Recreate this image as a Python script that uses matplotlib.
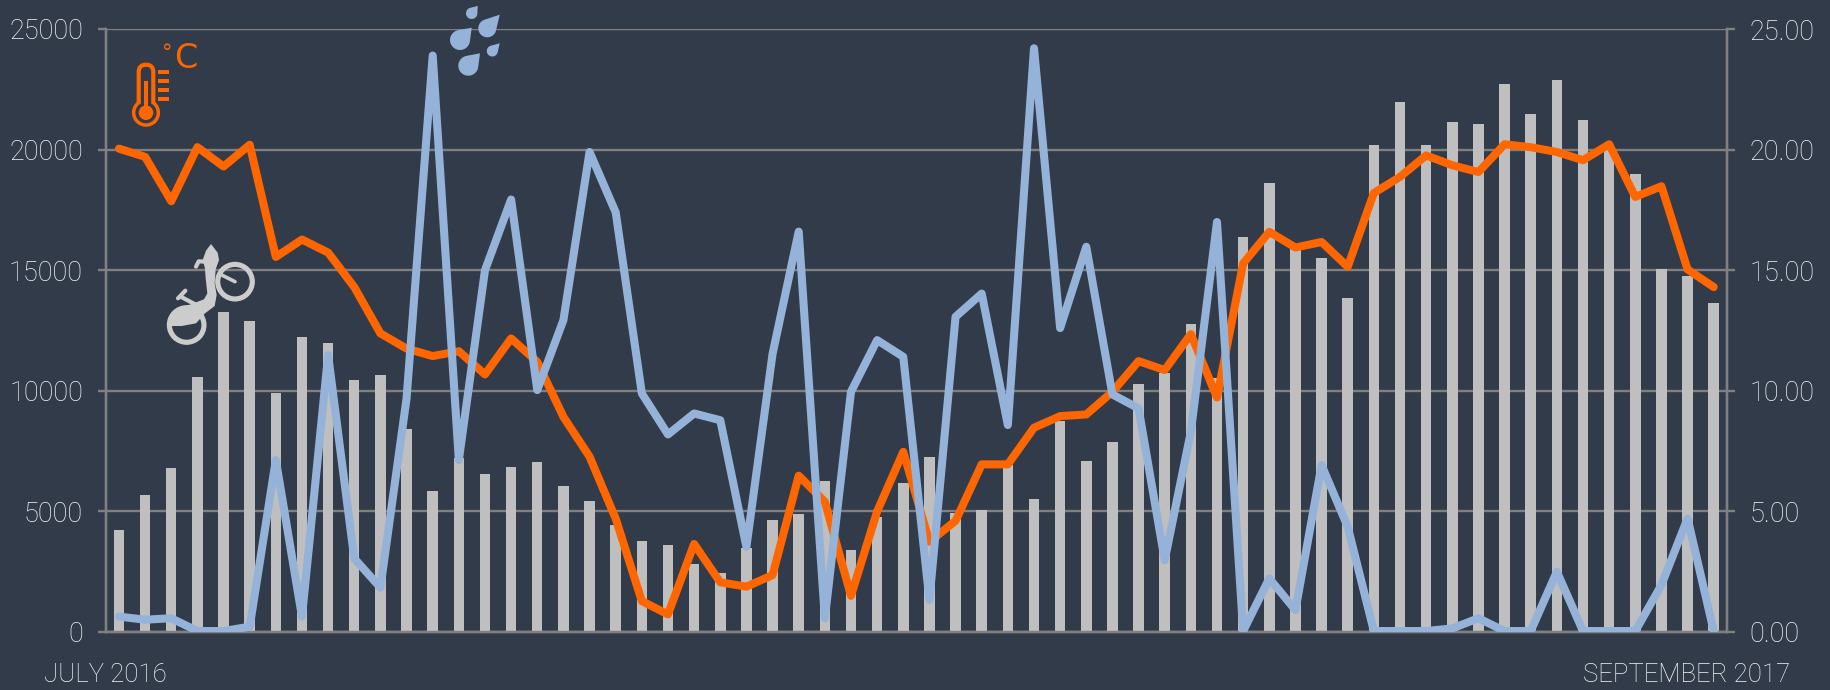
import numpy as np
import matplotlib
matplotlib.use("Agg")
import matplotlib.pyplot as plt
from matplotlib.patches import Circle, Rectangle, Polygon, FancyBboxPatch

BG = "#323B4A"
GRID = "#808080"
TEXT = "#F5F5F5"
ORANGE = "#FF6600"
BLUE = "#95B3D9"
BAR = "#BFBFBF"
FONT = "Roboto"

# weekly rentals, left axis
rentals = [4230, 5690, 6820, 10570, 13260, 12890, 9900, 12210, 12000, 10430,
           10660, 8400, 5840, 7200, 6530, 6860, 7030, 6060, 5430, 4430,
           3760, 3590, 2830, 2460, 3500, 4630, 4890, 6270, 3380, 4770,
           6190, 7240, 4930, 5040, 6920, 5520, 8740, 7100, 7870, 10290,
           10720, 12760, 10550, 16380, 18620, 15900, 15510, 13830, 20210, 21970,
           20210, 21150, 21050, 22710, 21490, 22900, 21240, 19970, 18990, 15030,
           14740, 13650]

# temperature in deg C, right axis
temperature = [20.04, 19.7, 17.86, 20.1, 19.3, 20.2, 15.55, 16.27, 15.73, 14.3,
               12.38, 11.75, 11.44, 11.64, 10.68, 12.17, 11.2, 8.92, 7.27, 4.7,
               1.28, 0.73, 3.65, 2.06, 1.88, 2.36, 6.48, 5.4, 1.5, 5.0,
               7.47, 3.74, 4.61, 6.95, 6.95, 8.47, 8.95, 9.02, 9.96, 11.23,
               10.86, 12.35, 9.72, 15.28, 16.59, 15.94, 16.17, 15.14, 18.2, 18.87,
               19.76, 19.35, 19.07, 20.22, 20.1, 19.9, 19.56, 20.22, 18.04, 18.48,
               15.03, 14.3]

# rainfall, right axis
rainfall = [0.64, 0.51, 0.57, 0.04, 0.04, 0.22, 7.13, 0.64, 11.48, 3.05,
            1.84, 9.68, 23.9, 7.13, 15.0, 17.93, 10.03, 12.93, 19.9, 17.4,
            9.89, 8.19, 9.06, 8.78, 3.53, 11.53, 16.6, 0.57, 9.96, 12.1,
            11.41, 1.33, 13.07, 14.03, 8.58, 24.2, 12.6, 15.97, 9.85, 9.27,
            2.98, 8.3, 17.0, 0.04, 2.22, 0.91, 6.92, 4.36, 0.04, 0.04,
            0.04, 0.15, 0.57, 0.04, 0.04, 2.5, 0.04, 0.04, 0.04, 1.95,
            4.71, 0.04]

left_ticks = [0, 5000, 10000, 15000, 20000, 25000]
right_ticks = [0, 5, 10, 15, 20, 25]

W, H = 1831, 690
x_left, x_right, y_top, y_bottom = 105.9, 1726.8, 29.0, 632.0


def drop(ax, tip, center, r, color):
    # rain drop: circle plus the two tangents to the tip
    tip = np.array(tip, float)
    center = np.array(center, float)
    d = tip - center
    dist = np.hypot(*d)
    base = np.arctan2(d[1], d[0])
    half = np.arccos(r / dist)
    angles = np.linspace(base + half, base + 2 * np.pi - half, 40)
    pts = [center + r * np.array([np.cos(a), np.sin(a)]) for a in angles]
    ax.add_patch(Polygon([tip] + pts, closed=True, fc=color, ec="none"))


def draw_thermometer(ax):
    c = ORANGE
    ax.add_patch(Circle((146, 112.7), 12, fc="none", ec=c, lw=3))
    ax.add_patch(FancyBboxPatch((138.7, 64.7), 14.6, 45, boxstyle="round,pad=0,rounding_size=7.3",
                                fc=BG, ec=c, lw=3))
    ax.add_patch(Circle((146, 112.7), 10.6, fc=BG, ec="none"))
    ax.add_patch(Circle((146, 112.7), 7.3, fc=c, ec="none"))
    ax.add_patch(Rectangle((143.7, 81), 4.6, 30, fc=c, ec="none"))
    for y in [71.7, 80.7, 89.7, 99.0]:
        ax.add_patch(Rectangle((157.7, y - 2.1), 11.3, 4.2, fc=c, ec="none"))
    ax.text(167, 53, "°", color=c, fontsize=15, family="DejaVu Sans", ha="center", va="center")
    ax.text(186, 58, "C", color=c, fontsize=24, family="DejaVu Sans", ha="center", va="center")


def draw_bike(ax):
    c = "#CCCCCC"
    ox, oy = 150, 230

    def p(zx, zy):
        return (ox + zx / 3, oy + zy / 3)

    ax.add_patch(Circle(p(255, 155), 17.3, fc="none", ec=c, lw=3.7))
    ax.add_patch(Circle(p(110, 285), 17.3, fc="none", ec=c, lw=3.7))
    body = [p(183, 42), p(203, 68), p(207, 90), p(197, 118), p(194, 160), p(200, 195),
            p(194, 228), p(165, 250), p(138, 280), p(95, 288), p(60, 288), p(56, 262),
            p(82, 235), p(125, 222), p(162, 208), p(172, 190), p(167, 145), p(165, 115),
            p(158, 90), p(168, 62)]
    ax.add_patch(Polygon(body, closed=True, fc=c, ec="none"))
    ax.plot(*zip(p(138, 110), p(146, 94), p(165, 95)), color=c, lw=3, solid_capstyle="round")
    ax.plot(*zip(p(92, 200), p(145, 228)), color=c, lw=3, solid_capstyle="round")
    ax.plot(*zip(p(84, 205), p(106, 182)), color=c, lw=3, solid_capstyle="round")
    ax.plot(*zip(p(215, 135), p(255, 155)), color=c, lw=2.6, solid_capstyle="round")


x = np.arange(len(rentals))

fig = plt.figure(figsize=(W / 100, H / 100), dpi=100, facecolor=BG)
ax = fig.add_axes([x_left / W, 1 - y_bottom / H, (x_right - x_left) / W, (y_bottom - y_top) / H])
ax.set_facecolor(BG)
ax.bar(x, rentals, width=0.4, color=BAR, zorder=3)
ax.set_xlim(-0.5, len(rentals) - 0.5)
ax.set_ylim(0, 25000)
ax.set_yticks(left_ticks)
ax.set_xticks([])
ax.grid(axis="y", color=GRID, lw=1.7, zorder=1)
ax.set_axisbelow(False)

ax2 = ax.twinx()
ax2.plot(x, temperature, color=ORANGE, lw=5.8, solid_joinstyle="round", solid_capstyle="round", zorder=4)
ax2.plot(x, rainfall, color=BLUE, lw=5.8, solid_joinstyle="round", solid_capstyle="round", zorder=5)
ax2.set_ylim(0, 25)
ax2.set_yticks(right_ticks)
ax2.set_yticklabels([f"{t:.2f}" for t in right_ticks])

for a in [ax, ax2]:
    for name, spine in a.spines.items():
        spine.set_color(GRID)
        spine.set_linewidth(1.7)
    a.spines["top"].set_visible(False)
    a.tick_params(axis="y", colors=GRID, length=5.5, width=1.7, pad=11, labelcolor=TEXT, labelsize=19.5)
    for label in a.get_yticklabels():
        label.set_family(FONT)
        label.set_fontweight("light")

# overlay in pixel coordinates for the icons and the two date labels
over = fig.add_axes([0, 0, 1, 1], facecolor="none")
over.set_xlim(0, W)
over.set_ylim(H, 0)
over.axis("off")

over.text(44, 675, "JULY 2016", color=TEXT, fontsize=18.5, family=FONT, weight="light", ha="left", va="center")
over.text(1790, 675, "SEPTEMBER 2017", color=TEXT, fontsize=18.5, family=FONT, weight="light", ha="right", va="center")

draw_thermometer(over)
draw_bike(over)
for tip, center, r in [((477.7, 6), (471.7, 13.3), 5.7),
                       ((499.7, 14.7), (487.3, 28.3), 9),
                       ((471.7, 27.7), (460, 40), 10),
                       ((499.7, 43.3), (492.3, 51), 5.5),
                       ((480, 53.3), (468.3, 65.7), 10)]:
    drop(over, tip, center, r, BLUE)

fig.savefig("out.png", dpi=100, facecolor=BG)
